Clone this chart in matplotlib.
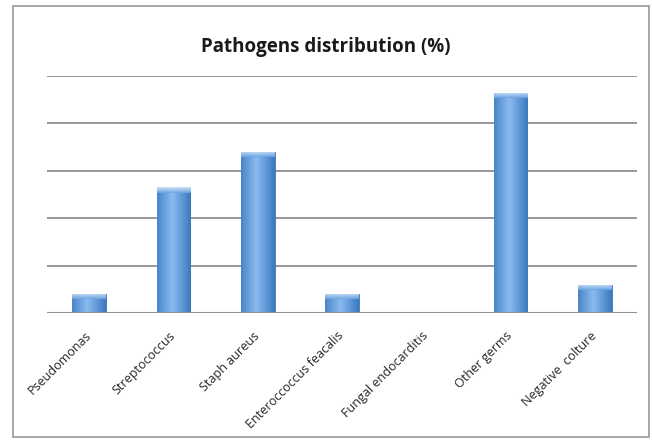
import matplotlib
matplotlib.use("Agg")
import matplotlib.pyplot as plt
import numpy as np
from matplotlib.patches import Rectangle

categories = [
    "Pseudomonas",
    "Streptococcus",
    "Staph aureus",
    "Enteroccoccus feacalis",
    "Fungal endocarditis",
    "Other germs",
    "Negative  colture",
]
values = [4.0, 26.5, 34.0, 4.0, 0.0, 46.5, 6.0]
grid_levels = [10, 20, 30, 40, 50]

plt.rcParams["font.family"] = ["Open Sans", "DejaVu Sans"]

fig = plt.figure(figsize=(6.52, 4.41), dpi=100)
fig.patch.set_facecolor("white")

# outer chart frame
frame = Rectangle((13 / 652, 4 / 441), 636 / 652, 431 / 441, transform=fig.transFigure,
                  facecolor="none", edgecolor="#a6a6a6", linewidth=1.4, zorder=-10)
fig.patches.append(frame)

ax = fig.add_axes([47 / 652, 1 - 313 / 441, 590 / 652, 237 / 441], zorder=5)
ax.set_facecolor("none")
x = np.arange(len(categories))

for level in grid_levels:
    ax.axhline(level, color="#8f8f8f", linewidth=1.3, zorder=1)
ax.axhline(0, color="#8f8f8f", linewidth=1.5, zorder=3)

bars = ax.bar(x, values, width=0.4, color="#5090d8", edgecolor="#3b74ba", linewidth=0.6, zorder=2)

# horizontal gradient inside each bar (lighter in the middle, darker at the edges)
grad = np.linspace(0, 1, 64)
shade = 1 - 0.5 * (2 * np.abs(grad - 0.45))
cmap = matplotlib.colors.LinearSegmentedColormap.from_list("barblue", ["#3573bd", "#8abbef"])
cap_cmap = matplotlib.colors.LinearSegmentedColormap.from_list("cap", ["#6fa6e2", "#d4e7fa"])
for bar in bars:
    h = bar.get_height()
    if h <= 0:
        continue
    x0 = bar.get_x()
    w = bar.get_width()
    img = ax.imshow(shade[np.newaxis, :], extent=[x0, x0 + w, 0, h], aspect="auto",
                    cmap=cmap, vmin=0.4, vmax=1.0, zorder=2.1)
    img.set_clip_path(bar)
    cap = min(1.1, h * 0.3)
    cap_img = ax.imshow(np.linspace(1, 0, 16)[:, np.newaxis] * np.ones((1, 8)),
                        extent=[x0, x0 + w, h - cap, h], aspect="auto",
                        cmap=cap_cmap, vmin=0, vmax=1, zorder=2.2, alpha=0.9)
    cap_img.set_clip_path(bar)

ax.set_xlim(-0.5, len(categories) - 0.5)
ax.set_ylim(0, 50)
ax.set_xticks(x)
ax.set_xticklabels(categories, rotation=45, ha="right", va="center", rotation_mode="anchor",
                   fontsize=9, color="#262626")
ax.tick_params(axis="x", length=0, pad=15)
ax.set_yticks([])
for side in ["top", "right", "left", "bottom"]:
    ax.spines[side].set_visible(False)

fig.text(0.5, 1 - 47 / 441, "Pathogens distribution (%)", ha="center", va="center",
         fontsize=13.5, fontweight="bold", color="#1a1a1a")

fig.savefig("out.png", dpi=100, facecolor="white")
